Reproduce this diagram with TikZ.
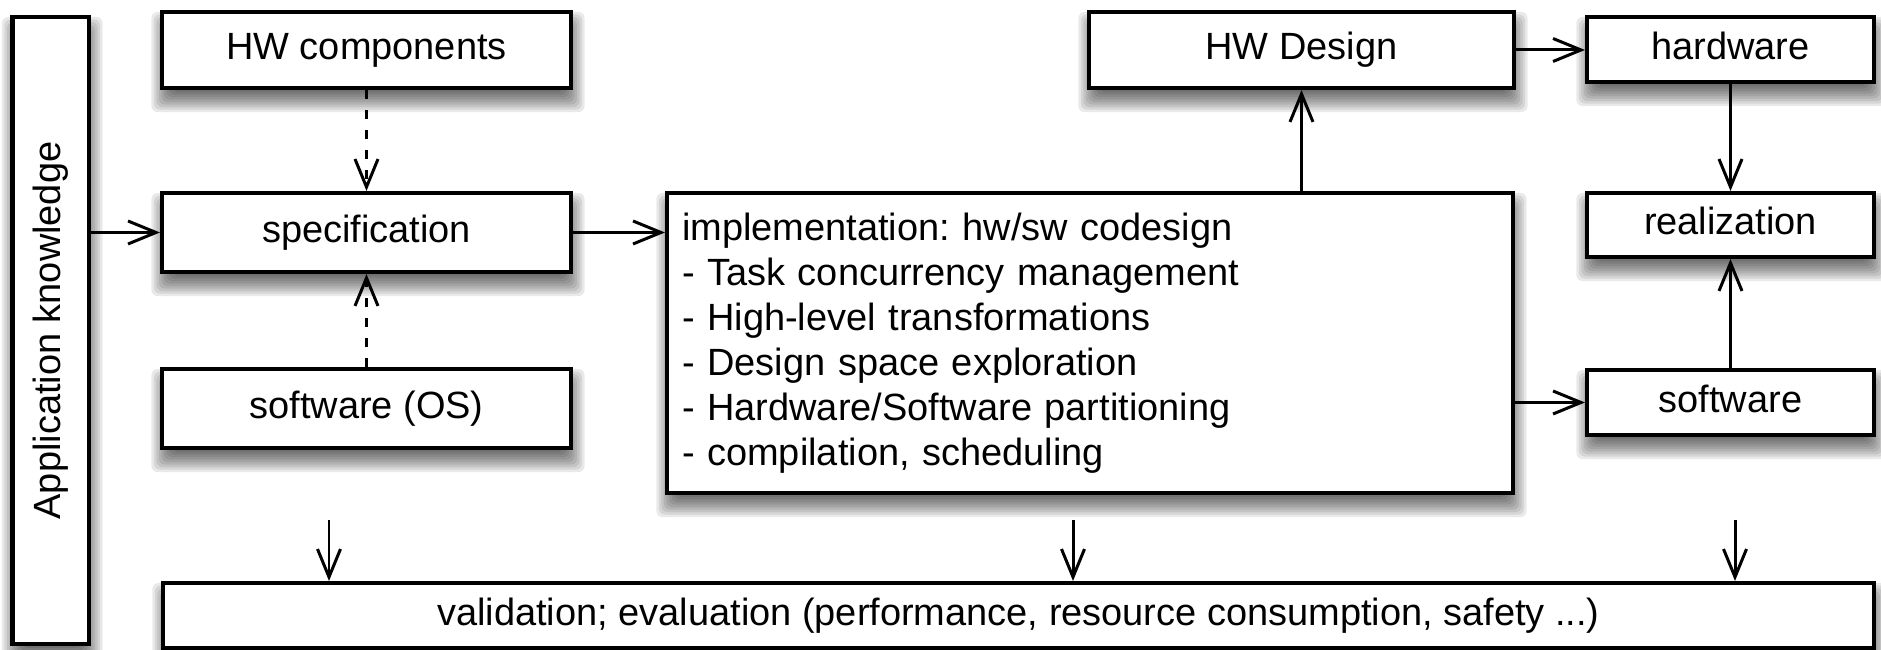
\documentclass[tikz,border=0pt]{standalone}
\usepackage{fontspec}
\setmainfont{Liberation Sans}
\usepackage{graphicx}
\usetikzlibrary{arrows.meta}
\pgfdeclarelayer{bg}
\pgfsetlayers{bg,main}
\frenchspacing
\begin{document}
\begin{tikzpicture}[
  font=\fontsize{10.8pt}{12.8pt}\selectfont,
  box/.style={draw, line width=1.15pt, fill=white, inner sep=0pt},
  oneline/.style={text height=2.6mm, text depth=0.6mm},
  arr/.style={line width=0.85pt, -{Straight Barb[length=2.8mm,width=2.3mm]}},
  dashedarr/.style={arr, dash pattern=on 0.9mm off 1.1mm},
  shadowfill/.style={fill=black, opacity=0.085}
]
\useasboundingbox (0,0) rectangle (18.81,6.50);

% boxes
\node[box, minimum width=0.765cm, minimum height=6.27cm] (ak) at (0.5075,3.195)
  {\rotatebox{90}{Application knowledge}};
\node[box, oneline, minimum width=4.09cm, minimum height=0.76cm] (hwc) at (3.665,6.00) {HW components};
\node[box, oneline, minimum width=4.09cm, minimum height=0.79cm] (spec) at (3.665,4.175) {specification};
\node[box, oneline, minimum width=4.09cm, minimum height=0.79cm] (swos) at (3.665,2.415) {software (OS)};
\node[box, minimum height=3.00cm, text width=8.16cm, inner xsep=0.15cm, align=left] (impl) at (10.90,3.07)
  {implementation: hw/sw codesign\\
   - Task concurrency management\\
   - High-level transformations\\
   - Design space exploration\\
   - Hardware/Software partitioning\\
   - compilation, scheduling};
\node[box, oneline, minimum width=4.25cm, minimum height=0.76cm] (hwd) at (13.015,6.00) {HW Design};
\node[box, oneline, minimum width=2.87cm, minimum height=0.65cm] (hw) at (17.305,6.005) {hardware};
\node[box, oneline, minimum width=2.87cm, minimum height=0.64cm] (real) at (17.305,4.25) {realization};
\node[box, oneline, minimum width=2.87cm, minimum height=0.65cm] (sw) at (17.305,2.475) {software};
\node[box, oneline, minimum width=17.11cm, minimum height=0.65cm] (val) at (10.185,0.345)
  {validation; evaluation (performance, resource consumption, safety ...)};

% soft drop shadows, falling below each box
\begin{pgfonlayer}{bg}
\foreach \n in {ak,hwc,spec,swos,impl,hwd,hw,real,sw,val}{
  \foreach \e in {-0.10,-0.075,-0.05,-0.025,0,0.025,0.05,0.075,0.10}{
    \fill[shadowfill, rounded corners=0.06cm]
      ([shift={(0.015-\e,-0.12-\e)}]\n.south west) rectangle
      ([shift={(0.015+\e,-0.12+\e)}]\n.north east);
  }
}
\end{pgfonlayer}

% connectors
\draw[arr] (ak.east |- spec.west) -- (spec.west);
\draw[dashedarr] (hwc.south) -- (spec.north);
\draw[dashedarr] (swos.north) -- (spec.south);
\draw[arr] (spec.east) -- (spec.east -| impl.west);
\draw[arr] (hwd.south |- impl.north) -- (hwd.south);
\draw[arr] (hwd.east) -- (hwd.east -| hw.west);
\draw[arr] (hw.south) -- (real.north);
\draw[arr] (sw.north) -- (real.south);
\draw[arr] (impl.east |- sw.west) -- (sw.west);

% inputs to validation
\coordinate (v1) at (3.29,1.30);
\coordinate (v2) at (10.73,1.30);
\coordinate (v3) at (17.35,1.30);
\draw[arr] (v1) -- (v1 |- val.north);
\draw[arr] (v2) -- (v2 |- val.north);
\draw[arr] (v3) -- (v3 |- val.north);
\end{tikzpicture}
\end{document}
